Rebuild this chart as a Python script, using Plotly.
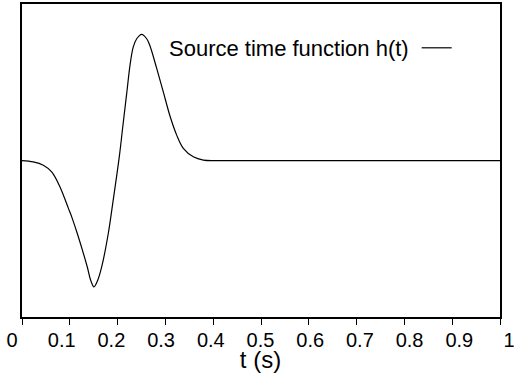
import plotly.graph_objects as go

# Source time function h(t)
t_vals = [0.0, 0.0236, 0.0446, 0.0621, 0.0795, 0.0969, 0.104, 0.1157, 0.1366, 0.1437,
          0.1506, 0.1584, 0.1667, 0.1805, 0.1905, 0.2035, 0.2115, 0.219, 0.2265, 0.2328,
          0.2400, 0.2504, 0.2609, 0.2678, 0.2818, 0.2956, 0.3096, 0.3236, 0.3375, 0.3584,
          0.3793, 0.4073, 0.5, 0.6, 0.7, 0.8, 0.9, 1.0]
h_vals = [0.0, -0.01, -0.036, -0.089, -0.208, -0.376, -0.445, -0.577, -0.842, -0.947,
          -1.0, -0.947, -0.842, -0.577, -0.32, 0.03, 0.29, 0.53, 0.77, 0.9,
          0.965, 1.0, 0.965, 0.907, 0.73, 0.545, 0.353, 0.202, 0.097, 0.03,
          0.004, 0.0, 0.0, 0.0, 0.0, 0.0, 0.0, 0.0]
tick_vals = [0, 0.1, 0.2, 0.3, 0.4, 0.5, 0.6, 0.7, 0.8, 0.9, 1]
tick_text = ["0", "0.1", "0.2", "0.3", "0.4", "0.5", "0.6", "0.7", "0.8", "0.9", "1"]
series_name = "Source time function h(t)"
x_title = "t (s)"

FONT = "Liberation Sans, Arial, sans-serif"
W, H = 514, 373
ml, mr, mt, mb = 0, 0, 4, 56
pw = W - ml - mr
ph = H - mt - mb
plot_dom = [22 / pw, 500 / pw]
label_dom = [12 / pw, 509 / pw]

fig = go.Figure()
fig.add_trace(go.Scatter(x=t_vals, y=h_vals, mode="lines", name="",
                         line=dict(color="black", width=1.2, shape="spline", smoothing=1.0),
                         xaxis="x", yaxis="y", showlegend=True))
# empty helper trace so the label axis is drawn
fig.add_trace(go.Scatter(x=[0, 1], y=[None, None], mode="lines", xaxis="x2", yaxis="y",
                         showlegend=False, hoverinfo="skip"))

fig.update_layout(
    template="none",
    width=W, height=H,
    margin=dict(l=ml, r=mr, t=mt, b=mb, pad=0),
    paper_bgcolor="white", plot_bgcolor="rgba(0,0,0,0)",
    font=dict(family=FONT, color="black", size=20),
    xaxis=dict(domain=plot_dom, range=[0, 1], tickmode="array", tickvals=tick_vals,
               showticklabels=False, ticks="outside", ticklen=6, tickwidth=1, tickcolor="black",
               showline=True, linecolor="black", linewidth=1.5, mirror=True,
               showgrid=False, zeroline=False, anchor="y"),
    # tick labels and title
    xaxis2=dict(domain=label_dom, range=[0, 1], tickmode="array", tickvals=tick_vals,
                ticktext=tick_text, ticks="outside", ticklen=5, tickcolor="rgba(0,0,0,0)",
                showline=False, showgrid=False, zeroline=False,
                anchor="free", position=0, side="bottom", ticklabeloverflow="allow",
                title=dict(text=x_title, standoff=2)),
    yaxis=dict(domain=[0, 1], range=[-1.238, 1.240], showticklabels=False, ticks="",
               showline=True, linecolor="black", linewidth=1.5, mirror=True,
               showgrid=False, zeroline=False, anchor="x"),
    legend=dict(x=462 / pw, xanchor="right", y=1 - (48 - mt) / ph,
                yanchor="middle", bgcolor="rgba(0,0,0,0)", borderwidth=0,
                font=dict(size=22), title=dict(text=series_name, side="left", font=dict(size=22)),
                itemwidth=30),
    showlegend=True,
)

fig.write_html("out.html")
